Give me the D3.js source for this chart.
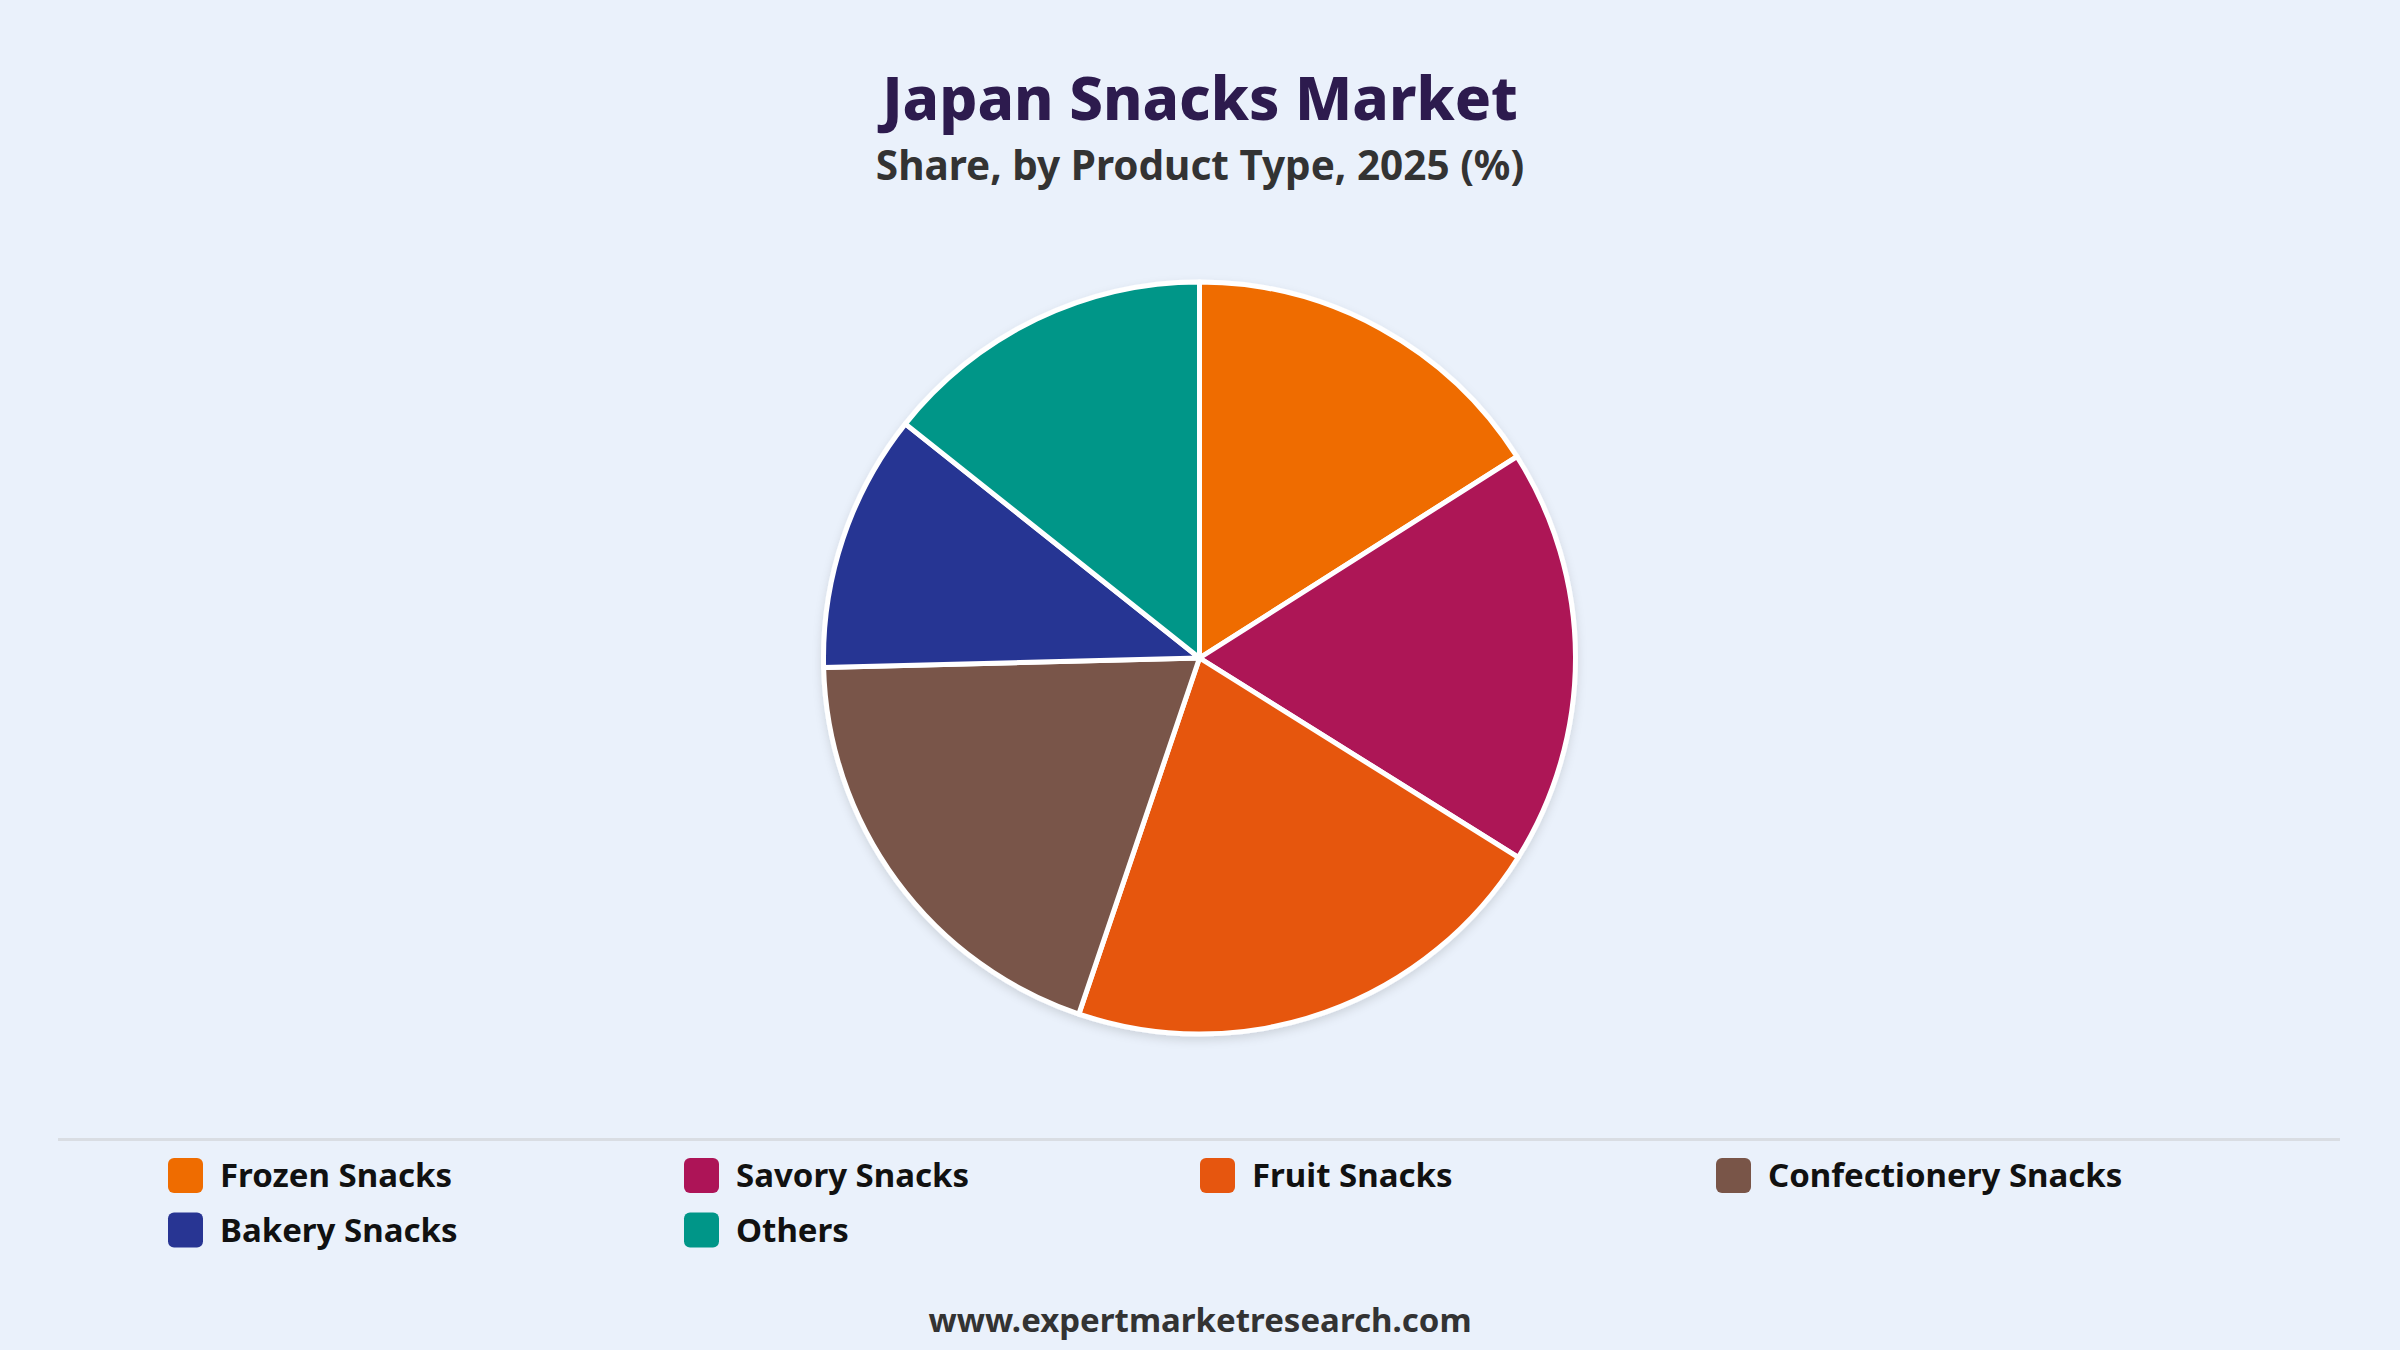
<!DOCTYPE html>
<html lang="en">

<head>
	<meta charset="utf-8">
	<title>Japan Snacks Market</title>
	<style>
		html,
		body {
			margin: 0;
			padding: 0;
			background: #eaf1fb;
		}
	</style>
</head>

<body>
	<script type="text/javascript" src="https://cdn.jsdelivr.net/npm/d3@7/dist/d3.min.js"></script>
	<script type="text/javascript">

		// values, share %
		const categories = ["Frozen Snacks", "Savory Snacks", "Fruit Snacks", "Confectionery Snacks", "Bakery Snacks", "Others"];
		const shares = [16.0, 17.9, 21.3, 19.4, 11.1, 14.3];
		const colors = ["#ef6c00", "#ad1457", "#e6560f", "#795548", "#283593", "#009688"];

		const title = "Japan Snacks Market";
		const subtitle = "Share, by Product Type, 2025 (%)";
		const source = "www.expertmarketresearch.com";

		const width = 2400;
		const height = 1350;
		const font = "'Noto Sans', 'Open Sans', sans-serif";

		const data = categories.map((c, i) => {
			return { name: c, value: shares[i], color: colors[i] };
		});

		const svg = d3.select(document.body)
			.append("svg")
			.attr("width", width)
			.attr("height", height)
			.attr("viewBox", [0, 0, width, height])
			.style("display", "block")
			.style("font-family", font);

		svg.append("rect")
			.attr("width", width)
			.attr("height", height)
			.attr("fill", "#eaf1fb");

		const defs = svg.append("defs");
		const shadow = defs.append("filter")
			.attr("id", "shadow")
			.attr("x", "-20%").attr("y", "-20%")
			.attr("width", "140%").attr("height", "140%");
		shadow.append("feDropShadow")
			.attr("dx", 0)
			.attr("dy", 4)
			.attr("stdDeviation", 5)
			.attr("flood-color", "#000")
			.attr("flood-opacity", 0.12);

		// titles
		svg.append("text")
			.attr("x", width / 2)
			.attr("y", 120)
			.attr("text-anchor", "middle")
			.attr("font-size", 60)
			.attr("font-weight", 800)
			.attr("fill", "#2d1b4e")
			.text(title);

		svg.append("text")
			.attr("x", width / 2)
			.attr("y", 180)
			.attr("text-anchor", "middle")
			.attr("font-size", 40.5)
			.attr("font-weight", 700)
			.attr("fill", "#333")
			.text(subtitle);

		// pie
		const cx = 1199.5;
		const cy = 658;
		const radius = 376;

		const pie = d3.pie()
			.sort(null)
			.value((d) => {
				return d.value;
			});

		const arc = d3.arc()
			.innerRadius(0)
			.outerRadius(radius);

		const g = svg.append("g")
			.attr("transform", `translate(${cx},${cy})`)
			.attr("filter", "url(#shadow)");

		g.selectAll("path")
			.data(pie(data))
			.join("path")
			.attr("d", arc)
			.attr("fill", (d) => {
				return d.data.color;
			})
			.attr("stroke", "#fff")
			.attr("stroke-width", 5)
			.attr("stroke-linejoin", "round");

		// separator
		svg.append("line")
			.attr("x1", 58)
			.attr("x2", 2340)
			.attr("y1", 1139.5)
			.attr("y2", 1139.5)
			.attr("stroke", "#d9dde3")
			.attr("stroke-width", 3);

		// legend
		const colX = d3.scalePoint()
			.domain(d3.range(4))
			.range([168, 1716]);
		const rowY = d3.scalePoint()
			.domain(d3.range(2))
			.range([1175.5, 1230]);

		const item = svg.append("g")
			.selectAll("g")
			.data(data)
			.join("g")
			.attr("transform", (d, i) => {
				return `translate(${colX(i % 4)},${rowY(Math.floor(i / 4))})`;
			});

		item.append("rect")
			.attr("x", 0)
			.attr("y", -17.5)
			.attr("width", 35)
			.attr("height", 35)
			.attr("rx", 6)
			.attr("fill", (d) => {
				return d.color;
			});

		item.append("text")
			.attr("x", 52)
			.attr("y", 11.5)
			.attr("font-size", 33)
			.attr("font-weight", 700)
			.attr("fill", "#111")
			.text((d) => {
				return d.name;
			});

		// footer
		svg.append("text")
			.attr("x", width / 2)
			.attr("y", 1332)
			.attr("text-anchor", "middle")
			.attr("font-size", 33)
			.attr("font-weight", 700)
			.attr("fill", "#333")
			.text(source);
	</script>
</body>

</html>
